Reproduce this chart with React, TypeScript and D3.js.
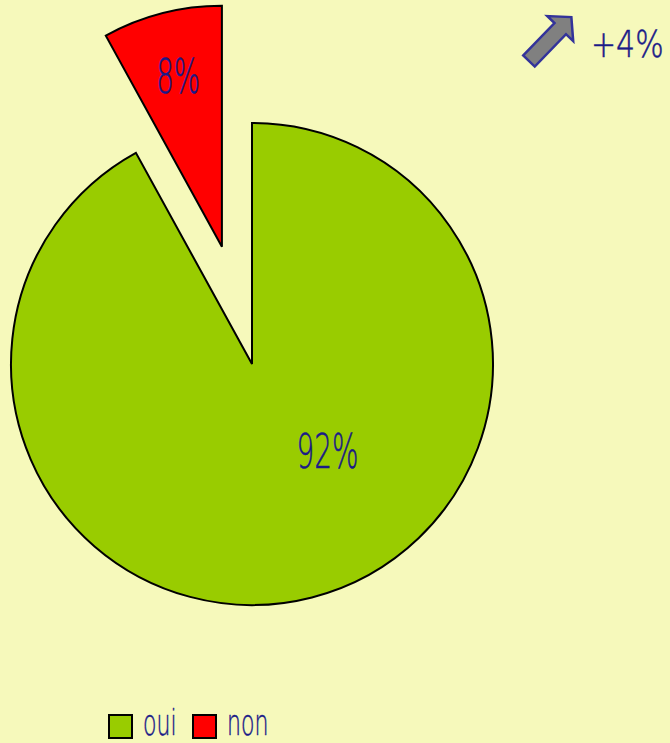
import React from "react";
import * as d3 from "d3";

const categories = ["oui", "non"];
const values = [92, 8];
const labels = ["92%", "8%"];
const colors = ["#99cc00", "#ff0000"];
const trendLabel = "+4%";

const W = 670;
const H = 743;
const BG = "#f6f9bb";
const NAVY = "#1a1a88";
const FONT = "'DejaVu Sans', sans-serif";
const WEIGHT = 200;

export default function App() {
  const cx = 252;
  const cy = 364;
  const R = 241;
  const explode = 121;

  const pie = d3
    .pie<number>()
    .sort(null)
    .startAngle(0)
    .endAngle(2 * Math.PI)
    .value((d) => d);
  const arcs = pie(values);
  const arc = d3.arc<any>().innerRadius(0).outerRadius(R);

  const labelPos = [
    { a: (139 * Math.PI) / 180, r: 115 },
    { a: null as number | null, r: 176 },
  ];
  const labelW = [62, 44];

  const arrowLocal: [number, number][] = [
    [0, -8],
    [45, -8],
    [45, -18],
    [61, 0],
    [45, 18],
    [45, 8],
    [0, 8],
  ];
  const arrowAngle = -46;
  const arrowPath = d3.line()(arrowLocal) + "Z";

  const legendX = [109, 193];
  const legendScale = [0.63, 0.63];

  const textStyle = {
    fontFamily: FONT,
    fontWeight: WEIGHT,
    fill: NAVY,
    stroke: NAVY,
    strokeWidth: 0.5,
  } as const;

  return (
    <svg
      width={W}
      height={H}
      style={{ position: "absolute", left: 0, top: 0, background: BG }}
    >
      <rect x={0} y={0} width={W} height={H} fill={BG} />
      {arcs.map((a, i) => {
        const mid = (a.startAngle + a.endAngle) / 2;
        const off = i === 1 ? explode : 0;
        const ox = cx + Math.sin(mid) * off;
        const oy = cy - Math.cos(mid) * off;
        const la = labelPos[i].a ?? mid;
        const lx = Math.sin(la) * labelPos[i].r;
        const ly = -Math.cos(la) * labelPos[i].r;
        return (
          <g key={categories[i]} transform={`translate(${ox},${oy})`}>
            <path
              d={arc(a) as string}
              fill={colors[i]}
              stroke="#000"
              strokeWidth={2}
              strokeLinejoin="miter"
            />
            <text
              x={lx}
              y={ly + 17}
              textAnchor="middle"
              fontSize={48}
              textLength={labelW[i]}
              lengthAdjust="spacingAndGlyphs"
              style={textStyle}
            >
              {labels[i]}
            </text>
          </g>
        );
      })}

      <g transform={`translate(529,61) rotate(${arrowAngle})`}>
        <path d={arrowPath} fill="#808080" stroke="#33339a" strokeWidth={2.5} strokeLinejoin="miter" />
      </g>
      <g transform="translate(591,57) scale(0.81,1)">
        <text x={0} y={0} fontSize={37} style={textStyle}>
          {trendLabel}
        </text>
      </g>

      {categories.map((c, i) => (
        <g key={c}>
          <rect
            x={legendX[i]}
            y={715}
            width={23}
            height={23}
            fill={colors[i]}
            stroke="#000"
            strokeWidth={2}
          />
          <g transform={`translate(${legendX[i] + 34},735) scale(${legendScale[i]},1)`}>
            <text x={0} y={0} fontSize={35} style={textStyle}>
              {c}
            </text>
          </g>
        </g>
      ))}
    </svg>
  );
}
